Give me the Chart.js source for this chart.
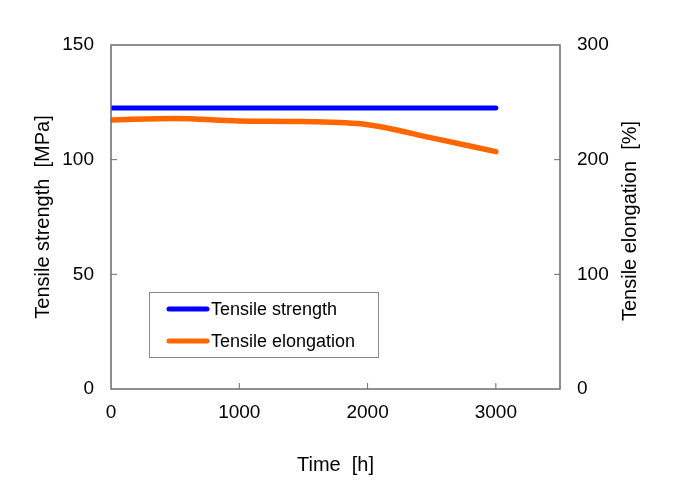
<!DOCTYPE html>
<html>
<head>
<meta charset="utf-8">
<script src="https://cdn.jsdelivr.net/npm/chart.js@4/dist/chart.umd.min.js"></script>
<style>
  html, body { margin: 0; padding: 0; background: #fff; }
  #wrap { width: 680px; height: 502px; position: relative; }
</style>
</head>
<body>
<div id="wrap"><canvas id="chart"></canvas></div>
<script>
// données
const timeHours = [0, 500, 1000, 1500, 2000, 2500, 3000];
const strengthMPa = [122.5, 122.5, 122.5, 122.5, 122.5, 122.5, 122.5];
const elongationPct = [234.6, 236.0, 233.8, 233.2, 230.5, 219.0, 207.0];
const xTicks = [0, 1000, 2000, 3000];
const labels = ['Tensile strength', 'Tensile elongation'];

const FONT = "'Liberation Sans', Arial, sans-serif";
const frameColor = '#6b6b6b';

function toPoints(xs, ys) {
    return xs.map((x, i) => ({ x: x, y: ys[i] }));
}

// cadre + petites graduations vers l'intérieur
const framePlugin = {
    id: 'frame',
    afterDatasetsDraw(chart) {
        const { ctx, chartArea: a, scales } = chart;
        ctx.save();
        ctx.strokeStyle = frameColor;
        ctx.lineWidth = 1.5;
        ctx.strokeRect(a.left, a.top, a.right - a.left, a.bottom - a.top);
        ctx.lineWidth = 1;
        ctx.beginPath();
        xTicks.slice(1).forEach(v => {
            const px = scales.x.getPixelForValue(v);
            ctx.moveTo(px, a.bottom); ctx.lineTo(px, a.bottom - 6);
        });
        [50, 100].forEach(v => {
            const py = scales.y.getPixelForValue(v);
            ctx.moveTo(a.left, py); ctx.lineTo(a.left + 6, py);
        });
        [100, 200].forEach(v => {
            const py = scales.y2.getPixelForValue(v);
            ctx.moveTo(a.right, py); ctx.lineTo(a.right - 6, py);
        });
        ctx.stroke();
        ctx.restore();
    }
};

// légende dans la zone du graphique
const legendPlugin = {
    id: 'boxLegend',
    afterDraw(chart) {
        const { ctx, chartArea: a } = chart;
        const x0 = a.left + 38, y0 = a.top + 247;
        ctx.save();
        ctx.fillStyle = '#fff';
        ctx.fillRect(x0, y0, 229, 65);
        ctx.strokeStyle = '#8a8a8a';
        ctx.lineWidth = 1;
        ctx.strokeRect(x0 + 0.5, y0 + 0.5, 229, 65);
        chart.data.datasets.forEach((ds, i) => {
            const y = y0 + 17 + i * 32;
            ctx.strokeStyle = ds.borderColor;
            ctx.lineWidth = 5;
            ctx.lineCap = 'round';
            ctx.beginPath();
            ctx.moveTo(x0 + 20, y); ctx.lineTo(x0 + 58, y);
            ctx.stroke();
            ctx.fillStyle = '#000';
            ctx.font = '18px ' + FONT;
            ctx.textBaseline = 'middle';
            ctx.fillText(ds.label, x0 + 62, y + 1);
        });
        ctx.restore();
    }
};

// titre de l'axe droit, lu de bas en haut
const rightTitlePlugin = {
    id: 'rightTitle',
    afterDraw(chart) {
        const { ctx, chartArea: a } = chart;
        ctx.save();
        ctx.translate(630, (a.top + a.bottom) / 2 + 4);
        ctx.rotate(-Math.PI / 2);
        ctx.fillStyle = '#000';
        ctx.font = '20px ' + FONT;
        ctx.textAlign = 'center';
        ctx.textBaseline = 'middle';
        ctx.fillText('Tensile elongation  [%]', 0, 0);
        ctx.restore();
    }
};

new Chart(document.getElementById('chart').getContext('2d'), {
    type: 'line',
    data: {
        datasets: [{
            label: labels[0],
            data: toPoints(timeHours, strengthMPa),
            borderColor: '#0000ff',
            borderWidth: 5,
            borderCapStyle: 'round',
            pointRadius: 0,
            yAxisID: 'y'
        }, {
            label: labels[1],
            data: toPoints(timeHours, elongationPct),
            borderColor: '#ff6600',
            borderWidth: 5.5,
            borderCapStyle: 'round',
            cubicInterpolationMode: 'monotone',
            pointRadius: 0,
            yAxisID: 'y2'
        }]
    },
    options: {
        responsive: true,
        maintainAspectRatio: false,
        animation: false,
        layout: { padding: { top: 45, left: 0, right: 0, bottom: 0 } },
        plugins: { legend: { display: false }, tooltip: { enabled: false } },
        scales: {
            x: {
                type: 'linear',
                min: 0, max: 3500,
                afterFit: s => { s.height = 113; },
                afterBuildTicks: s => { s.ticks = xTicks.map(v => ({ value: v })); },
                grid: { display: false, drawTicks: false },
                border: { display: false },
                ticks: { color: '#000', padding: 12, font: { family: FONT, size: 19 }, callback: v => String(v) },
                title: { display: true, text: 'Time  [h]', color: '#000', padding: { bottom: 25 }, font: { family: FONT, size: 20 } }
            },
            y: {
                position: 'left',
                min: 0, max: 150,
                afterFit: s => { s.width = 111; },
                grid: { display: false, drawTicks: false },
                border: { display: false },
                ticks: { stepSize: 50, color: '#000', padding: 17, font: { family: FONT, size: 19 } },
                title: { display: true, text: 'Tensile strength  [MPa]', color: '#000', padding: { top: 31 }, font: { family: FONT, size: 20 } }
            },
            y2: {
                position: 'right',
                min: 0, max: 300,
                afterFit: s => { s.width = 120; },
                grid: { display: false, drawTicks: false },
                border: { display: false },
                ticks: { stepSize: 100, color: '#000', padding: 17, font: { family: FONT, size: 19 } }
            }
        }
    },
    plugins: [framePlugin, legendPlugin, rightTitlePlugin]
});
</script>
</body>
</html>
